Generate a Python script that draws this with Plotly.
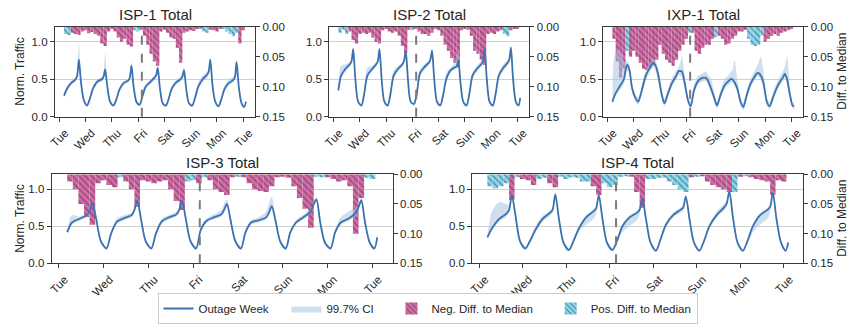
import plotly.graph_objects as go

# ---------------- data ----------------
DAY_LABELS = ["Tue", "Wed", "Thu", "Fri", "Sat", "Sun", "Mon", "Tue"]
DAY_HOURS = [0, 24, 48, 72, 96, 120, 144, 168]
OUTAGE_START_HOUR = 75.5

# sample hours of the traffic curves (hours since first Tuesday 00:00)
HOURS = [4.5, 7, 11, 15, 16.5, 18, 20, 22.5,
         25.5, 28, 31, 35, 39, 40.5, 42, 44, 46.5,
         49.5, 52, 55, 59, 63, 64.5, 66, 68, 70.5,
         73.5, 76, 79, 83, 87, 88.5, 90, 92, 94.5,
         97.5, 100, 103, 107, 111, 112.5, 114, 116, 118.5,
         121.5, 124, 127, 131, 135, 136.5, 138, 140, 142.5,
         145.5, 148, 151, 155, 159, 160.5, 162, 164, 166.5,
         169, 170.5]

# bar bins (3-hour bins, centre hour)
BIN_HOURS = [6, 9, 12, 15, 18, 21, 24, 27, 30, 33, 36, 39, 42, 45, 48,
             51, 54, 57, 60, 63, 66, 69, 72, 75, 78, 81, 84, 87, 90, 93,
             96, 99, 102, 105, 108, 111, 114, 117, 120, 123, 126, 129,
             132, 135, 138, 141, 144, 147, 150, 153, 156, 159, 162, 165, 168]
BIN_WIDTH = 3

TITLES = ["ISP-1 Total", "ISP-2 Total", "IXP-1 Total", "ISP-3 Total", "ISP-4 Total"]

# ---- ISP-1 ----
ISP1_LINE = [0.28, 0.37, 0.45, 0.50, 0.55, 0.76, 0.45, 0.22,
             0.15, 0.24, 0.38, 0.47, 0.50, 0.53, 0.63, 0.40, 0.20,
             0.15, 0.22, 0.36, 0.45, 0.48, 0.52, 0.68, 0.40, 0.20,
             0.16, 0.27, 0.40, 0.46, 0.52, 0.55, 0.65, 0.38, 0.18,
             0.15, 0.24, 0.38, 0.46, 0.50, 0.53, 0.62, 0.37, 0.18,
             0.15, 0.25, 0.40, 0.50, 0.56, 0.60, 0.76, 0.42, 0.20,
             0.14, 0.23, 0.37, 0.45, 0.49, 0.53, 0.73, 0.40, 0.18,
             0.13, 0.20]
ISP1_CI_HI = [0.30, 0.40, 0.48, 0.53, 0.60, 1.00, 0.50, 0.25,
              0.17, 0.27, 0.41, 0.50, 0.53, 0.58, 0.85, 0.45, 0.22,
              0.17, 0.24, 0.39, 0.48, 0.50, 0.55, 0.73, 0.43, 0.22,
              0.18, 0.36, 0.43, 0.49, 0.55, 0.58, 0.70, 0.42, 0.20,
              0.17, 0.27, 0.41, 0.49, 0.55, 0.60, 0.66, 0.40, 0.20,
              0.17, 0.28, 0.46, 0.55, 0.60, 0.64, 0.78, 0.45, 0.22,
              0.16, 0.26, 0.42, 0.50, 0.53, 0.57, 0.75, 0.43, 0.20,
              0.15, 0.22]
ISP1_CI_LO = [0.26, 0.33, 0.42, 0.47, 0.52, 0.70, 0.40, 0.19,
              0.13, 0.21, 0.34, 0.44, 0.47, 0.50, 0.60, 0.36, 0.17,
              0.13, 0.19, 0.32, 0.42, 0.46, 0.50, 0.64, 0.36, 0.17,
              0.14, 0.24, 0.37, 0.43, 0.49, 0.52, 0.62, 0.34, 0.16,
              0.13, 0.21, 0.35, 0.43, 0.47, 0.50, 0.59, 0.33, 0.16,
              0.13, 0.22, 0.36, 0.46, 0.52, 0.56, 0.72, 0.37, 0.17,
              0.12, 0.20, 0.33, 0.42, 0.46, 0.50, 0.70, 0.36, 0.15,
              0.11, 0.18]
ISP1_DIFF = [0.012, 0.014, -0.010, -0.012, -0.014, -0.008,
             -0.006, -0.011, -0.009, -0.012, -0.015, -0.028, -0.032, -0.008,
             -0.004, -0.008, -0.018, -0.025, -0.020, -0.030, -0.033, 0.006,
             0.008, -0.005, -0.015, -0.030, -0.045, -0.058, -0.065, -0.008,
             -0.005, -0.010, -0.018, -0.020, -0.035, -0.060, -0.010, -0.008,
             -0.006, -0.007, -0.004, -0.003, 0.008, 0.010, -0.005, -0.006,
             -0.008, -0.004, 0.004, 0.008, 0.012, 0.016, 0.010, -0.028,
             -0.006]

# ---- ISP-2 ----
ISP2_LINE = [0.35, 0.55, 0.64, 0.70, 0.74, 0.90, 0.50, 0.20,
             0.15, 0.30, 0.55, 0.63, 0.70, 0.74, 0.90, 0.50, 0.20,
             0.15, 0.30, 0.55, 0.64, 0.70, 0.75, 0.88, 0.50, 0.20,
             0.17, 0.30, 0.58, 0.66, 0.72, 0.76, 0.88, 0.50, 0.20,
             0.15, 0.28, 0.50, 0.62, 0.66, 0.67, 0.75, 0.45, 0.20,
             0.15, 0.30, 0.55, 0.64, 0.70, 0.75, 0.90, 0.50, 0.20,
             0.15, 0.30, 0.55, 0.65, 0.72, 0.76, 0.92, 0.50, 0.20,
             0.15, 0.25]
ISP2_CI_HI = [0.38, 0.68, 0.70, 0.73, 0.76, 0.92, 0.55, 0.23,
              0.17, 0.36, 0.65, 0.68, 0.73, 0.77, 0.92, 0.55, 0.22,
              0.17, 0.35, 0.62, 0.68, 0.73, 0.78, 0.90, 0.55, 0.22,
              0.19, 0.35, 0.63, 0.70, 0.75, 0.80, 0.90, 0.55, 0.22,
              0.17, 0.33, 0.58, 0.66, 0.72, 0.78, 0.88, 0.50, 0.22,
              0.17, 0.35, 0.60, 0.68, 0.75, 0.80, 0.92, 0.55, 0.22,
              0.17, 0.35, 0.60, 0.70, 0.76, 0.80, 0.96, 0.55, 0.22,
              0.17, 0.27]
ISP2_CI_LO = [0.33, 0.50, 0.60, 0.67, 0.71, 0.86, 0.45, 0.18,
              0.13, 0.26, 0.50, 0.60, 0.67, 0.71, 0.86, 0.45, 0.18,
              0.13, 0.26, 0.50, 0.60, 0.67, 0.72, 0.85, 0.45, 0.18,
              0.15, 0.26, 0.53, 0.62, 0.69, 0.73, 0.85, 0.45, 0.18,
              0.13, 0.25, 0.46, 0.59, 0.63, 0.64, 0.72, 0.40, 0.18,
              0.13, 0.26, 0.50, 0.60, 0.67, 0.72, 0.87, 0.45, 0.18,
              0.13, 0.26, 0.50, 0.61, 0.68, 0.72, 0.88, 0.45, 0.18,
              0.13, 0.22]
ISP2_DIFF = [0.010, 0.005, 0.012, -0.008, -0.022, -0.028,
             -0.012, -0.010, -0.012, -0.010, -0.018, -0.025, -0.028, -0.006,
             -0.004, -0.008, -0.010, -0.008, -0.015, -0.032, -0.044, -0.005,
             0.006, -0.004, -0.008, -0.012, -0.012, -0.015, -0.010, -0.004,
             -0.006, -0.015, -0.030, -0.040, -0.052, -0.060, -0.068, -0.006,
             -0.004, -0.005, -0.015, -0.040, -0.045, -0.055, -0.064, -0.012,
             -0.010, -0.012, -0.008, -0.006, 0.012, 0.016, -0.006, -0.004,
             -0.004]

# ---- IXP-1 ----
IXP1_LINE = [0.20, 0.30, 0.40, 0.50, 0.62, 0.69, 0.63, 0.38,
             0.25, 0.20, 0.33, 0.55, 0.66, 0.70, 0.72, 0.68, 0.55,
             0.30, 0.18, 0.30, 0.45, 0.55, 0.60, 0.61, 0.60, 0.45,
             0.22, 0.14, 0.35, 0.48, 0.52, 0.52, 0.52, 0.47, 0.38,
             0.25, 0.15, 0.28, 0.42, 0.48, 0.50, 0.50, 0.46, 0.38,
             0.20, 0.13, 0.28, 0.45, 0.55, 0.58, 0.58, 0.55, 0.45,
             0.20, 0.14, 0.25, 0.40, 0.50, 0.53, 0.57, 0.50, 0.30,
             0.15, 0.14]
IXP1_CI_HI = [0.25, 0.85, 0.90, 0.75, 0.72, 0.74, 0.70, 0.45,
              0.30, 0.26, 0.40, 0.62, 0.72, 0.76, 0.78, 0.74, 0.62,
              0.36, 0.24, 0.36, 0.52, 0.62, 0.66, 0.70, 0.80, 0.55,
              0.28, 0.20, 0.42, 0.55, 0.58, 0.60, 0.60, 0.56, 0.50,
              0.32, 0.20, 0.35, 0.50, 0.56, 0.60, 0.62, 0.75, 0.50,
              0.26, 0.18, 0.35, 0.52, 0.63, 0.68, 0.72, 0.80, 0.60,
              0.26, 0.19, 0.32, 0.47, 0.58, 0.62, 0.68, 0.80, 0.40,
              0.19, 0.18]
IXP1_CI_LO = [0.17, 0.26, 0.35, 0.44, 0.55, 0.62, 0.56, 0.32,
              0.20, 0.16, 0.28, 0.48, 0.60, 0.64, 0.66, 0.60, 0.45,
              0.24, 0.14, 0.25, 0.40, 0.50, 0.55, 0.56, 0.52, 0.38,
              0.17, 0.10, 0.30, 0.43, 0.47, 0.48, 0.48, 0.42, 0.32,
              0.20, 0.11, 0.23, 0.37, 0.43, 0.45, 0.46, 0.40, 0.32,
              0.15, 0.09, 0.23, 0.40, 0.50, 0.53, 0.53, 0.48, 0.38,
              0.15, 0.10, 0.20, 0.35, 0.45, 0.48, 0.52, 0.43, 0.25,
              0.11, 0.10]
IXP1_DIFF = [-0.020, -0.058, -0.085, -0.070, 0.040, -0.050,
             -0.040, -0.050, -0.060, -0.070, -0.072, -0.068, -0.065, -0.055,
             -0.030, -0.045, -0.055, -0.060, -0.065, -0.055, -0.040, -0.030,
             -0.020, 0.010, -0.010, -0.040, -0.045, -0.035, -0.030, -0.030,
             -0.020, 0.017, -0.015, -0.020, -0.030, -0.028, -0.020, -0.015,
             -0.008, -0.008, -0.005, 0.020, 0.030, 0.032, 0.030, 0.015,
             -0.025, -0.020, -0.015, -0.012, -0.015, -0.010, -0.008, -0.006,
             -0.004]

# ---- ISP-3 ----
ISP3_LINE = [0.42, 0.55, 0.60, 0.65, 0.70, 0.82, 0.60, 0.30,
             0.20, 0.40, 0.56, 0.61, 0.65, 0.72, 0.85, 0.60, 0.30,
             0.20, 0.40, 0.56, 0.62, 0.66, 0.72, 0.85, 0.60, 0.30,
             0.20, 0.45, 0.57, 0.62, 0.66, 0.72, 0.80, 0.58, 0.30,
             0.20, 0.42, 0.55, 0.58, 0.62, 0.68, 0.77, 0.58, 0.30,
             0.20, 0.42, 0.55, 0.62, 0.70, 0.80, 0.86, 0.55, 0.28,
             0.20, 0.42, 0.55, 0.60, 0.68, 0.76, 0.85, 0.55, 0.28,
             0.20, 0.35]
ISP3_CI_HI = [0.45, 0.65, 0.63, 0.67, 0.73, 0.85, 0.63, 0.33,
              0.22, 0.43, 0.60, 0.65, 0.68, 0.75, 0.88, 0.63, 0.33,
              0.22, 0.43, 0.60, 0.65, 0.70, 0.76, 0.88, 0.63, 0.33,
              0.22, 0.48, 0.60, 0.66, 0.72, 0.80, 0.86, 0.62, 0.33,
              0.22, 0.45, 0.58, 0.62, 0.70, 0.80, 0.90, 0.65, 0.33,
              0.22, 0.45, 0.58, 0.66, 0.74, 0.83, 0.89, 0.60, 0.31,
              0.22, 0.45, 0.62, 0.70, 0.75, 0.80, 0.88, 0.60, 0.31,
              0.22, 0.42]
ISP3_CI_LO = [0.39, 0.52, 0.57, 0.62, 0.67, 0.78, 0.56, 0.27,
              0.18, 0.37, 0.53, 0.58, 0.62, 0.69, 0.81, 0.56, 0.27,
              0.18, 0.37, 0.53, 0.59, 0.63, 0.69, 0.81, 0.56, 0.27,
              0.18, 0.42, 0.54, 0.59, 0.63, 0.68, 0.76, 0.54, 0.27,
              0.18, 0.39, 0.52, 0.55, 0.59, 0.65, 0.73, 0.54, 0.27,
              0.18, 0.39, 0.52, 0.59, 0.67, 0.76, 0.82, 0.51, 0.25,
              0.18, 0.39, 0.52, 0.57, 0.63, 0.70, 0.81, 0.51, 0.25,
              0.18, 0.30]
ISP3_DIFF = [-0.012, -0.025, -0.050, -0.072, -0.085, -0.015,
             -0.010, -0.018, -0.022, 0.005, -0.012, -0.025, -0.055, -0.010,
             -0.012, -0.015, -0.012, -0.010, -0.025, -0.045, -0.060, 0.012,
             0.010, -0.015, 0.005, -0.010, -0.025, -0.030, -0.035, -0.005,
             0.004, -0.005, -0.015, -0.025, -0.028, -0.030, -0.020, -0.005,
             -0.004, -0.006, -0.020, -0.040, -0.058, -0.090, 0.004, 0.005,
             -0.005, -0.008, -0.012, -0.010, -0.020, -0.100, -0.040, 0.006,
             0.008]

# ---- ISP-4 ----
ISP4_LINE = [0.35, 0.47, 0.60, 0.67, 0.72, 0.92, 0.65, 0.30,
             0.20, 0.30, 0.45, 0.60, 0.68, 0.72, 0.93, 0.60, 0.28,
             0.18, 0.30, 0.47, 0.62, 0.70, 0.74, 0.92, 0.60, 0.28,
             0.18, 0.30, 0.50, 0.62, 0.68, 0.72, 0.88, 0.60, 0.28,
             0.17, 0.32, 0.52, 0.65, 0.72, 0.75, 0.90, 0.60, 0.28,
             0.17, 0.30, 0.50, 0.65, 0.75, 0.80, 0.97, 0.62, 0.28,
             0.17, 0.30, 0.50, 0.65, 0.72, 0.76, 0.95, 0.60, 0.28,
             0.17, 0.28]
ISP4_CI_HI = [0.37, 0.70, 0.82, 0.80, 0.78, 0.95, 0.68, 0.33,
              0.22, 0.33, 0.50, 0.64, 0.71, 0.76, 0.96, 0.63, 0.31,
              0.20, 0.33, 0.50, 0.65, 0.73, 0.77, 0.95, 0.63, 0.31,
              0.20, 0.33, 0.53, 0.65, 0.71, 0.76, 0.91, 0.63, 0.31,
              0.19, 0.35, 0.55, 0.68, 0.75, 0.78, 0.93, 0.63, 0.31,
              0.19, 0.33, 0.53, 0.70, 0.80, 0.85, 0.99, 0.65, 0.31,
              0.19, 0.33, 0.53, 0.68, 0.75, 0.79, 0.98, 0.63, 0.31,
              0.19, 0.31]
ISP4_CI_LO = [0.33, 0.44, 0.56, 0.63, 0.68, 0.88, 0.60, 0.27,
              0.18, 0.27, 0.41, 0.56, 0.64, 0.68, 0.89, 0.56, 0.25,
              0.16, 0.27, 0.42, 0.52, 0.60, 0.66, 0.88, 0.56, 0.25,
              0.16, 0.27, 0.42, 0.50, 0.58, 0.66, 0.84, 0.56, 0.25,
              0.15, 0.29, 0.48, 0.62, 0.68, 0.71, 0.86, 0.56, 0.25,
              0.15, 0.27, 0.46, 0.62, 0.71, 0.76, 0.93, 0.58, 0.25,
              0.15, 0.27, 0.42, 0.52, 0.60, 0.68, 0.91, 0.56, 0.25,
              0.15, 0.25]
ISP4_DIFF = [0.020, 0.024, 0.020, 0.015, -0.043, 0.005,
             -0.008, -0.010, -0.018, 0.008, 0.006, -0.015, -0.022, 0.004,
             0.008, 0.005, 0.006, 0.012, 0.012, -0.020, -0.035, 0.015,
             0.022, 0.018, 0.004, 0.003, -0.004, -0.030, -0.057, 0.008,
             0.008, 0.006, 0.006, 0.012, 0.018, 0.025, 0.030, -0.005,
             0.004, -0.003, -0.012, -0.018, -0.022, -0.025, -0.030, 0.030,
             -0.004, 0.003, -0.005, -0.008, -0.010, -0.012, -0.035, -0.010,
             -0.012]

LINES = [ISP1_LINE, ISP2_LINE, IXP1_LINE, ISP3_LINE, ISP4_LINE]
CI_HI = [ISP1_CI_HI, ISP2_CI_HI, IXP1_CI_HI, ISP3_CI_HI, ISP4_CI_HI]
CI_LO = [ISP1_CI_LO, ISP2_CI_LO, IXP1_CI_LO, ISP3_CI_LO, ISP4_CI_LO]
DIFFS = [ISP1_DIFF, ISP2_DIFF, IXP1_DIFF, ISP3_DIFF, ISP4_DIFF]

# ---------------- styling / layout ----------------
W, H = 865, 327
FONT = "Liberation Sans, Arial, sans-serif"
TXT = "#262626"
SPINE = "#3a3a3a"
LINE_C = "#3b72b0"
CI_C = "rgba(170,196,226,0.55)"
NEG_C = "#d56aa8"
POS_C = "#86d6f0"
HATCH_C = "#2a2a2a"
SMOOTH = 0.8
PAD = "\u00a0" * 4

# panel plot areas in pixels: (left, right, top, bottom)
BOXES = [(55, 255, 26.7, 116.7),
         (329.3, 529.3, 26.7, 116.7),
         (603.3, 803.3, 26.7, 116.7),
         (51.7, 392.7, 174.3, 263.3),
         (472.3, 803.3, 174.3, 263.3)]
LEFT_LABEL = [True, False, False, True, False]
RIGHT_LABEL = [False, False, True, False, True]
X_RANGE = [-3.8, 178.8]

fig = go.Figure()
layout = dict(width=W, height=H, margin=dict(l=0, r=0, t=0, b=0, autoexpand=False),
              paper_bgcolor="white", plot_bgcolor="white",
              font=dict(family=FONT, size=11, color=TXT),
              barmode="overlay", showlegend=True)
annotations = []
shapes = []

for i in range(5):
    k = i + 1
    l, r, t, b = BOXES[i]
    xd = [l / W, r / W]
    yd = [1 - b / H, 1 - t / H]
    xa = "x" if k == 1 else f"x{k}"
    ya_diff = f"y{2 * k - 1}" if k > 1 else "y"
    ya_tr = f"y{2 * k}"
    xname = "xaxis" if k == 1 else f"xaxis{k}"
    dname = "yaxis" if k == 1 else f"yaxis{2 * k - 1}"
    tname = f"yaxis{2 * k}"

    layout[xname] = dict(domain=xd, anchor=ya_diff, range=X_RANGE, automargin=False,
                         tickmode="array", tickvals=DAY_HOURS, ticktext=DAY_LABELS,
                         tickangle=-45, ticklabelshift=6, ticks="outside", ticklen=4,
                         tickwidth=1, tickcolor=SPINE, showgrid=False, zeroline=False,
                         showline=True, linecolor=SPINE, linewidth=1.2, mirror=True,
                         tickfont=dict(size=11.5, color=TXT))
    layout[dname] = dict(domain=yd, anchor=xa, side="right", range=[0.15, 0],
                         automargin=False,
                         tickmode="array", tickvals=[0, 0.05, 0.10, 0.15],
                         tickformat=".2f", ticks="outside", ticklen=4,
                         tickcolor=SPINE, showgrid=False, zeroline=False,
                         showline=True, linecolor=SPINE, linewidth=1.2,
                         tickfont=dict(size=11.5, color=TXT))
    layout[tname] = dict(domain=yd, anchor=xa, overlaying=ya_diff, side="left",
                         automargin=False,
                         range=[0, 1.2], tickmode="array", tickvals=[0, 0.5, 1.0],
                         tickformat=".1f", ticks="outside", ticklen=4,
                         tickcolor=SPINE, showgrid=True, gridcolor="#d0d0d0",
                         gridwidth=1, zeroline=False, showline=True,
                         linecolor=SPINE, linewidth=1.2,
                         tickfont=dict(size=11.5, color=TXT))

    first = (i == 0)
    diff = DIFFS[i]
    neg = [abs(v) if v < 0 else None for v in diff]
    pos = [v if v > 0 else None for v in diff]
    fig.add_trace(go.Bar(x=BIN_HOURS, y=neg, width=BIN_WIDTH, xaxis=xa, yaxis=ya_diff,
                         name="Neg. Diff. to Median" + PAD, legendgroup="neg",
                         showlegend=first, legendrank=3, base=0,
                         marker=dict(color=NEG_C, line=dict(width=0),
                                     pattern=dict(shape="\\", fgcolor=HATCH_C, size=4.5,
                                                  solidity=0.28))))
    fig.add_trace(go.Bar(x=BIN_HOURS, y=pos, width=BIN_WIDTH, xaxis=xa, yaxis=ya_diff,
                         name="Pos. Diff. to Median", legendgroup="pos", showlegend=first,
                         legendrank=4, base=0,
                         marker=dict(color=POS_C, line=dict(width=0),
                                     pattern=dict(shape="\\", fgcolor=HATCH_C, size=4.5,
                                                  solidity=0.28))))
    fig.add_trace(go.Scatter(x=HOURS, y=CI_LO[i], xaxis=xa, yaxis=ya_tr, mode="lines",
                             line=dict(width=0, shape="spline", smoothing=SMOOTH, color=CI_C),
                             showlegend=False, hoverinfo="skip"))
    fig.add_trace(go.Scatter(x=HOURS, y=CI_HI[i], xaxis=xa, yaxis=ya_tr, mode="lines",
                             line=dict(width=0, shape="spline", smoothing=SMOOTH, color=CI_C),
                             fill="tonexty", fillcolor=CI_C,
                             name="99.7% CI" + PAD, legendgroup="ci", showlegend=first,
                             legendrank=2))
    fig.add_trace(go.Scatter(x=HOURS, y=LINES[i], xaxis=xa, yaxis=ya_tr, mode="lines",
                             line=dict(width=1.8, shape="spline", smoothing=SMOOTH,
                                       color=LINE_C),
                             name="Outage Week" + PAD, legendgroup="line",
                             showlegend=first, legendrank=1))

    shapes.append(dict(type="line", xref=xa, yref=f"{ya_tr} domain",
                       x0=OUTAGE_START_HOUR, x1=OUTAGE_START_HOUR, y0=0, y1=1,
                       line=dict(color="#7a7a7a", width=2, dash="dash"), layer="above"))

    annotations.append(dict(text=TITLES[i], xref="paper", yref="paper",
                            x=(l + r) / 2 / W, y=1 - (t - 12) / H,
                            xanchor="center", yanchor="middle", showarrow=False,
                            font=dict(size=15, color=TXT)))
    if LEFT_LABEL[i]:
        annotations.append(dict(text="Norm. Traffic", xref="paper", yref="paper",
                                x=20 / W, y=1 - (t + b) / 2 / H, textangle=-90,
                                xanchor="center", yanchor="middle", showarrow=False,
                                font=dict(size=12, color=TXT)))
    if RIGHT_LABEL[i]:
        annotations.append(dict(text="Diff. to Median", xref="paper", yref="paper",
                                x=842 / W, y=1 - (t + b) / 2 / H, textangle=-90,
                                xanchor="center", yanchor="middle", showarrow=False,
                                font=dict(size=12, color=TXT)))

layout["annotations"] = annotations
layout["shapes"] = shapes
layout["legend"] = dict(orientation="h", x=427.5 / W, y=1 - 324 / H,
                        xanchor="center", yanchor="bottom",
                        bordercolor="#cccccc", borderwidth=1, bgcolor="white",
                        font=dict(size=11.5, color=TXT), traceorder="normal")
fig.update_layout(**layout)
fig.write_html("out.html")
